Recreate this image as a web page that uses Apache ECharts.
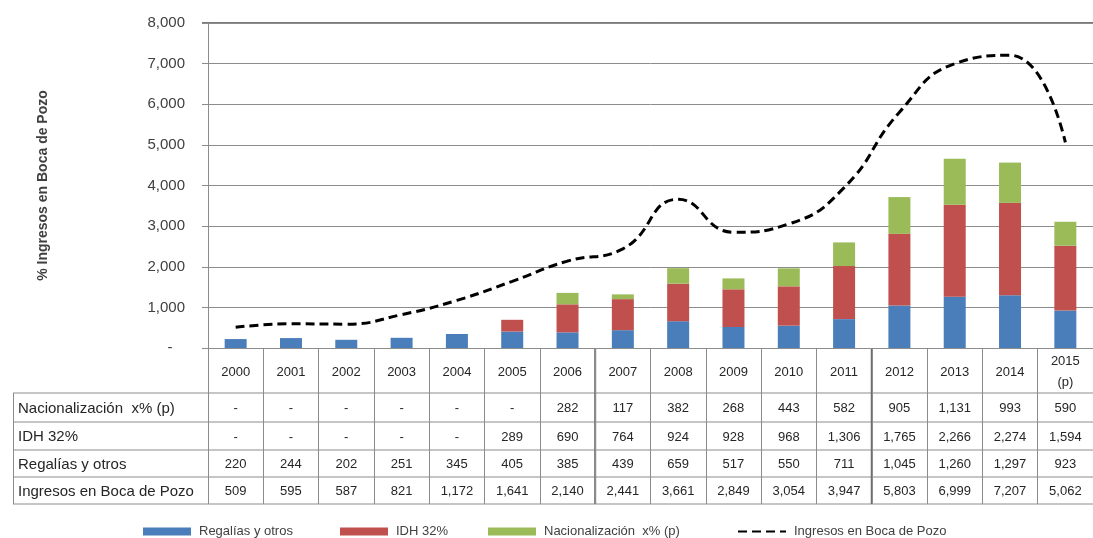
<!DOCTYPE html>
<html>
<head>
<meta charset="utf-8">
<script src="https://cdn.jsdelivr.net/npm/echarts@6/dist/echarts.min.js"></script>
<style>
  html, body { margin: 0; padding: 0; background: #fff; }
  #chart { width: 1093px; height: 538px; }
</style>
</head>
<body>
<div id="chart"></div>
<script>
// Years shown in the header row of the table
const years = ['2000', '2001', '2002', '2003', '2004', '2005', '2006', '2007',
  '2008', '2009', '2010', '2011', '2012', '2013', '2014', '2015\n(p)'];

// Series values (null = no value, shown as "-" in the table)
const nacionalizacion = [null, null, null, null, null, null, 282, 117, 382, 268, 443, 582, 905, 1131, 993, 590];
const idh = [null, null, null, null, null, 289, 690, 764, 924, 928, 968, 1306, 1765, 2266, 2274, 1594];
const regalias = [220, 244, 202, 251, 345, 405, 385, 439, 659, 517, 550, 711, 1045, 1260, 1297, 923];
const ingresos = [509, 595, 587, 821, 1172, 1641, 2140, 2441, 3661, 2849, 3054, 3947, 5803, 6999, 7207, 5062];

// Names of the series / table rows
const nameNac = 'Nacionalización  x% (p)';
const nameIdh = 'IDH 32%';
const nameReg = 'Regalías y otros';
const nameIng = 'Ingresos en Boca de Pozo';

// Layout
const W = 1093, H = 538;
const plotLeft = 208, plotTop = 23, plotBottom = 348, plotRight = 1093;
const tableLeft = 13;
const rowLines = [393, 422, 450, 477, 504];
const gridColor = '#8c8c8c';
const textColor = '#262626';
const font = 'Liberation Sans, Arial, sans-serif';

const fmt = v => (v === null || v === undefined) ? '-' : v.toLocaleString('en-US');

const tableRows = [
  { label: nameNac, values: nacionalizacion },
  { label: nameIdh, values: idh },
  { label: nameReg, values: regalias },
  { label: nameIng, values: ingresos }
];

// One extra category axis per table row; its labels are the row's values
const rowAxes = tableRows.map((row, i) => {
  const center = (rowLines[i] + rowLines[i + 1]) / 2 + 1;
  return {
    type: 'category',
    data: years,
    gridIndex: 0,
    position: 'bottom',
    offset: center - plotBottom,
    axisLine: { show: false },
    axisTick: { show: false },
    splitLine: { show: false },
    axisLabel: {
      interval: 0,
      margin: 0,
      verticalAlign: 'middle',
      fontSize: 13,
      fontFamily: font,
      color: textColor,
      formatter: (v, idx) => fmt(row.values[idx])
    }
  };
});

const colW = (plotRight - plotLeft) / years.length;
const graphics = [];
// horizontal rules of the table
rowLines.forEach(y => {
  graphics.push({ type: 'line', shape: { x1: tableLeft, y1: y, x2: plotRight, y2: y },
    style: { stroke: gridColor, lineWidth: 1 }, silent: true });
});
// left border of the label column
graphics.push({ type: 'line', shape: { x1: tableLeft + 0.5, y1: rowLines[0], x2: tableLeft + 0.5, y2: rowLines[4] },
  style: { stroke: gridColor, lineWidth: 1 }, silent: true });
// heavier separators after 2006 and 2011
[7, 12].forEach(k => {
  const x = plotLeft + k * colW;
  graphics.push({ type: 'line', shape: { x1: x, y1: plotBottom, x2: x, y2: rowLines[4] },
    style: { stroke: '#6e6e6e', lineWidth: 2 }, silent: true });
});
// heavier top rule at 8,000
graphics.push({ type: 'line', shape: { x1: plotLeft - 6, y1: plotTop, x2: plotRight, y2: plotTop },
  style: { stroke: '#7a7a7a', lineWidth: 2 }, silent: true });
// row labels
tableRows.forEach((row, i) => {
  const center = (rowLines[i] + rowLines[i + 1]) / 2 + 1;
  graphics.push({ type: 'text', x: tableLeft + 5, y: center,
    style: { text: row.label, fontSize: 15, fontFamily: font, fill: textColor,
      verticalAlign: 'middle', align: 'left' }, silent: true });
});

// Legend entries, each placed on its own
const legendSpots = [
  { name: nameReg, left: 143 },
  { name: nameIdh, left: 340 },
  { name: nameNac, left: 488 },
  { name: nameIng, left: 737 }
];
const legends = legendSpots.map(s => ({
  left: s.left,
  top: 525,
  padding: 0,
  itemWidth: 48,
  itemHeight: 8,
  itemGap: 0,
  textStyle: { fontSize: 13, color: '#404040', fontFamily: font, padding: [0, 0, 0, 3] },
  data: [s.name === nameIng
    ? { name: s.name, itemStyle: { opacity: 0 } }
    : { name: s.name, icon: 'rect' }]
}));

const chart = echarts.init(document.getElementById('chart'), null, { renderer: 'canvas' });
chart.setOption({
  animation: false,
  backgroundColor: '#ffffff',
  textStyle: { fontFamily: font },
  grid: { left: plotLeft, right: W - plotRight, top: plotTop, bottom: H - plotBottom },
  legend: legends,
  xAxis: [{
    type: 'category',
    data: years,
    gridIndex: 0,
    position: 'bottom',
    axisLine: { show: true, lineStyle: { color: gridColor, width: 1 } },
    axisTick: { show: true, interval: 0, length: rowLines[4] - plotBottom, lineStyle: { color: gridColor, width: 1 } },
    axisLabel: {
      interval: 0, margin: 24, verticalAlign: 'middle', lineHeight: 21,
      fontSize: 13, color: textColor, fontFamily: font
    },
    splitLine: { show: false }
  }].concat(rowAxes),
  yAxis: {
    type: 'value',
    min: 0,
    max: 8000,
    interval: 1000,
    name: '% Ingresos en Boca de Pozo',
    nameLocation: 'middle',
    nameRotate: 90,
    nameGap: 158,
    nameTextStyle: { fontSize: 14, fontWeight: 'bold', color: '#404040', fontFamily: font },
    axisLine: { show: true, lineStyle: { color: gridColor } },
    axisTick: { show: true, length: 6, lineStyle: { color: gridColor } },
    axisLabel: {
      margin: 23, fontSize: 15, color: '#404040', fontFamily: font,
      formatter: v => v === 0 ? '-   ' : v.toLocaleString('en-US')
    },
    splitLine: { show: true, lineStyle: { color: gridColor, width: 1 } }
  },
  series: [
    { name: nameReg, type: 'bar', stack: 'total', barWidth: 22, data: regalias,
      itemStyle: { color: '#4a7ebb' } },
    { name: nameIdh, type: 'bar', stack: 'total', barWidth: 22, data: idh,
      itemStyle: { color: '#c0504d' } },
    { name: nameNac, type: 'bar', stack: 'total', barWidth: 22, data: nacionalizacion,
      itemStyle: { color: '#9bbb59' } },
    { name: nameIng, type: 'line', data: ingresos, smooth: 0.5, symbol: 'none', z: 5,
      lineStyle: { color: '#000000', width: 3, type: [9, 5] },
      itemStyle: { color: '#000000' } }
  ],
  graphic: graphics
});
</script>
</body>
</html>
